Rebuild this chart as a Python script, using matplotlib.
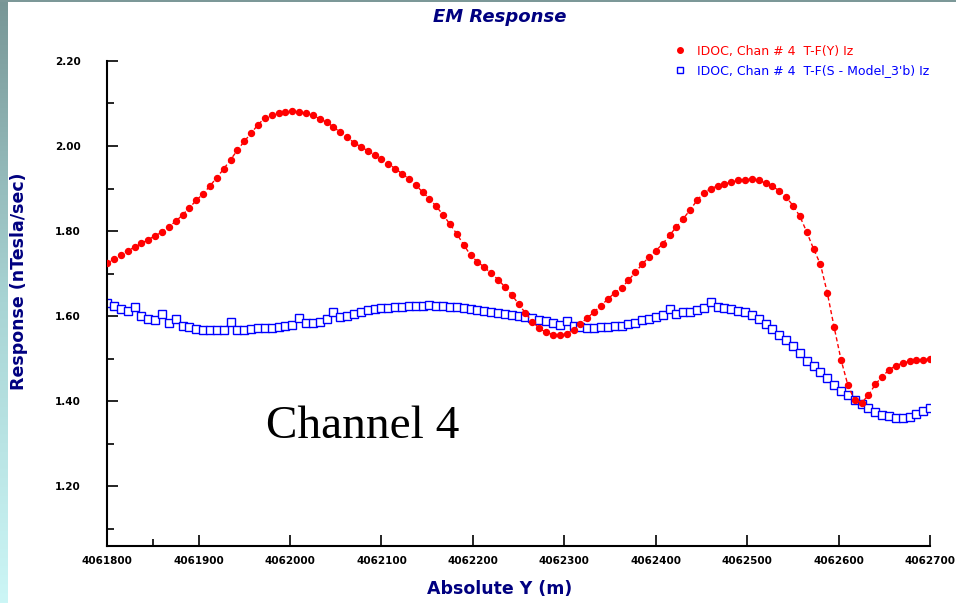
import numpy as np
import matplotlib
matplotlib.use("Agg")
import matplotlib.pyplot as plt
from matplotlib.lines import Line2D
from matplotlib.ticker import FixedLocator, FormatStrFormatter

# Survey stations along the line (m), one reading every 7.5 m
y_start = 4061800
y_step = 7.5
n_stations = 121
abs_y = y_start + y_step * np.arange(n_stations)

# Observed dB/dt, channel 4 (filled red)
observed = [
    1.725, 1.734, 1.744, 1.754, 1.762, 1.771, 1.780, 1.789, 1.798, 1.810,
    1.823, 1.838, 1.855, 1.872, 1.888, 1.906, 1.926, 1.946, 1.968, 1.990,
    2.011, 2.030, 2.050, 2.066, 2.074, 2.078, 2.080, 2.082, 2.080, 2.077,
    2.072, 2.064, 2.056, 2.045, 2.032, 2.020, 2.008, 1.998, 1.989, 1.979,
    1.969, 1.958, 1.947, 1.935, 1.923, 1.908, 1.892, 1.876, 1.858, 1.838,
    1.816, 1.793, 1.768, 1.743, 1.728, 1.715, 1.701, 1.686, 1.669, 1.650,
    1.629, 1.607, 1.587, 1.572, 1.562, 1.557, 1.555, 1.559, 1.568, 1.582,
    1.596, 1.610, 1.625, 1.640, 1.655, 1.667, 1.684, 1.703, 1.722, 1.739,
    1.754, 1.770, 1.790, 1.810, 1.829, 1.850, 1.872, 1.890, 1.900, 1.906,
    1.911, 1.915, 1.919, 1.921, 1.922, 1.919, 1.913, 1.905, 1.895, 1.880,
    1.860, 1.835, 1.798, 1.758, 1.722, 1.655, 1.574, 1.498, 1.438, 1.402,
    1.397, 1.414, 1.440, 1.458, 1.474, 1.484, 1.490, 1.494, 1.497, 1.498,
    1.500,
]

# Model response (hollow blue squares)
model = [
    1.632, 1.625, 1.618, 1.612, 1.622, 1.600, 1.594, 1.592, 1.606, 1.585,
    1.594, 1.578, 1.574, 1.571, 1.568, 1.567, 1.567, 1.568, 1.586, 1.568,
    1.568, 1.571, 1.572, 1.572, 1.573, 1.574, 1.577, 1.579, 1.596, 1.584,
    1.585, 1.587, 1.594, 1.609, 1.598, 1.601, 1.605, 1.609, 1.614, 1.617,
    1.619, 1.620, 1.622, 1.621, 1.624, 1.623, 1.625, 1.626, 1.624, 1.623,
    1.622, 1.621, 1.619, 1.618, 1.615, 1.613, 1.610, 1.607, 1.605, 1.603,
    1.601, 1.598, 1.595, 1.592, 1.588, 1.584, 1.580, 1.588, 1.576, 1.574,
    1.573, 1.573, 1.574, 1.574, 1.576, 1.578, 1.582, 1.585, 1.590, 1.594,
    1.598, 1.602, 1.618, 1.606, 1.609, 1.611, 1.614, 1.620, 1.634, 1.622,
    1.620, 1.617, 1.613, 1.609, 1.602, 1.594, 1.582, 1.569, 1.556, 1.543,
    1.530, 1.514, 1.494, 1.482, 1.469, 1.454, 1.438, 1.425, 1.414, 1.404,
    1.394, 1.384, 1.374, 1.369, 1.365, 1.361, 1.360, 1.364, 1.370, 1.377,
    1.384,
]

label_obs = "IDOC, Chan # 4  T-F(Y) Iz"
label_mod = "IDOC, Chan # 4  T-F(S - Model_3'b) Iz"

x_ticks = [4061800, 4061900, 4062000, 4062100, 4062200,
           4062300, 4062400, 4062500, 4062600, 4062700]
y_ticks = [1.20, 1.40, 1.60, 1.80, 2.00, 2.20]

navy = "#000080"
red = "#ff0000"
blue = "#0000ff"

fig = plt.figure(figsize=(9.56, 6.03), dpi=100)
fig.patch.set_facecolor("white")

# slide-style border: gradient strip on the left, thin band on top
strip = fig.add_axes([0, 0, 0.0075, 1])
grad = np.linspace(0, 1, 256).reshape(-1, 1)
cmap = matplotlib.colors.LinearSegmentedColormap.from_list(
    "edge", ["#789696", "#a8d4d4", "#ccf6f6"])
strip.imshow(grad, aspect="auto", cmap=cmap)
strip.axis("off")
top = fig.add_axes([0, 0.997, 1, 0.003])
top.set_facecolor("#7c9898")
top.set_xticks([])
top.set_yticks([])
for s in top.spines.values():
    s.set_visible(False)

ax = fig.add_axes([0.112, 0.0945, 0.861, 0.8045])
ax.plot(abs_y, observed, color=red, ls=(0, (3, 2)), lw=1.0,
        marker="o", ms=4.3, mfc=red, mec=red, zorder=3)
ax.plot(abs_y, model, color=blue, lw=0.8,
        marker="s", ms=5.2, mfc="white", mec=blue, mew=1.0, zorder=2)

ax.set_xlim(4061800, 4062700)
ax.set_ylim(1.06, 2.20)
for side in ("top", "right"):
    ax.spines[side].set_visible(False)
for side in ("left", "bottom"):
    ax.spines[side].set_linewidth(1.5)

ax.set_xticks(x_ticks)
ax.xaxis.set_minor_locator(FixedLocator([4061850]))
ax.set_yticks(y_ticks)
ax.yaxis.set_minor_locator(FixedLocator([1.10, 1.30, 1.50, 1.70, 1.90, 2.10]))
ax.yaxis.set_major_formatter(FormatStrFormatter("%.2f"))
ax.xaxis.set_major_formatter(FormatStrFormatter("%d"))
ax.tick_params(which="both", direction="in", width=1.2, colors="black",
               labelsize=7.5)
ax.tick_params(which="major", length=8)
ax.tick_params(which="minor", length=5)
ax.tick_params(axis="y", pad=19)
ax.tick_params(axis="x", pad=7)
for lab in ax.get_xticklabels() + ax.get_yticklabels():
    lab.set_fontweight("bold")

ax.text(0.193, 0.222, "Channel 4", transform=ax.transAxes,
        family="Liberation Serif", fontsize=34, color="black")

fig.text(0.523, 0.972, "EM Response", ha="center", va="center",
         fontsize=13, fontweight="bold", fontstyle="italic", color=navy)
fig.text(0.523, 0.024, "Absolute Y (m)", ha="center", va="center",
         fontsize=12.5, fontweight="bold", color=navy)
fig.text(0.020, 0.534, "Response (nTesla/sec)", ha="center", va="center",
         rotation=90, fontsize=12.5, fontweight="bold", color=navy)

handles = [
    Line2D([], [], ls="none", marker="o", ms=4, mfc=red, mec=red),
    Line2D([], [], ls="none", marker="s", ms=4.5, mfc="white", mec=blue),
]
fig.legend(handles, [label_obs, label_mod], loc="upper left",
           bbox_to_anchor=(0.698, 0.936), frameon=False, fontsize=9,
           labelcolor=[red, blue], handlelength=1.0, handletextpad=0.9,
           labelspacing=0.5, borderpad=0)

fig.savefig("out.png", dpi=100)
